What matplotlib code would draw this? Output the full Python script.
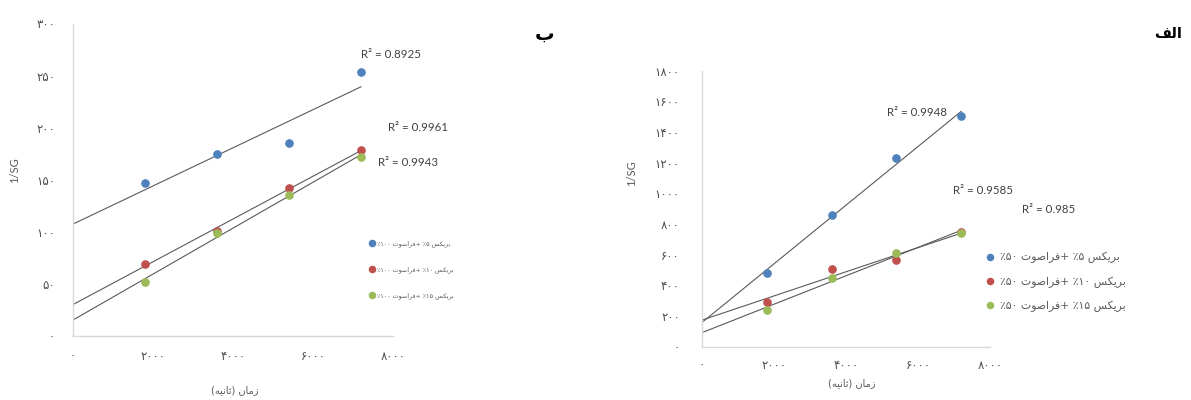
import re
import numpy as np
import matplotlib
matplotlib.use("Agg")
import matplotlib.pyplot as plt
from matplotlib.ticker import FixedLocator, FuncFormatter

# ---------------------------------------------------------------- data
time_s = [1800, 3600, 5400, 7200]

# panel "ب" : ultrasound 100 %
b_brix5 = [146.6, 174.7, 185.0, 253.0]
b_brix10 = [69.1, 100.8, 141.8, 178.6]
b_brix15 = [52.1, 98.6, 135.4, 172.1]
b_r2 = ["R² = 0.8925", "R² = 0.9961", "R² = 0.9943"]
b_labels = ["بریکس ۵٪ +فراصوت ۱۰۰٪",
            "بریکس ۱۰٪ +فراصوت ۱۰۰٪",
            "بریکس ۱۵٪ +فراصوت ۱۰۰٪"]
b_yticks = [0, 50, 100, 150, 200, 250, 300]

# panel "الف" : ultrasound 50 %
a_brix5 = [482, 856, 1228, 1506]
a_brix10 = [292, 506, 565, 745]
a_brix15 = [238, 445, 608, 740]
a_r2 = ["R² = 0.9948", "R² = 0.9585", "R² = 0.985"]
a_labels = ["بریکس ۵٪ +فراصوت ۵۰٪",
            "بریکس ۱۰٪ +فراصوت ۵۰٪",
            "بریکس ۱۵٪ +فراصوت ۵۰٪"]
a_yticks = [0, 200, 400, 600, 800, 1000, 1200, 1400, 1600, 1800]

xticks = [0, 2000, 4000, 6000, 8000]
panel_titles = ["ب", "الف"]
x_title = "زمان (ثانیه)"
y_title = "1/SG"

colors = ["#4F81BD", "#C0504D", "#9BBB59"]

# ------------------------------------------------- Persian text helpers
FORMS = {
    "ا": ("\uFE8D", "\uFE8E"),
    "ب": ("\uFE8F", "\uFE90", "\uFE91", "\uFE92"),
    "ت": ("\uFE95", "\uFE96", "\uFE97", "\uFE98"),
    "ث": ("\uFE99", "\uFE9A", "\uFE9B", "\uFE9C"),
    "ر": ("\uFEAD", "\uFEAE"),
    "ز": ("\uFEAF", "\uFEB0"),
    "س": ("\uFEB1", "\uFEB2", "\uFEB3", "\uFEB4"),
    "ص": ("\uFEB9", "\uFEBA", "\uFEBB", "\uFEBC"),
    "ف": ("\uFED1", "\uFED2", "\uFED3", "\uFED4"),
    "ل": ("\uFEDD", "\uFEDE", "\uFEDF", "\uFEE0"),
    "م": ("\uFEE1", "\uFEE2", "\uFEE3", "\uFEE4"),
    "ن": ("\uFEE5", "\uFEE6", "\uFEE7", "\uFEE8"),
    "ه": ("\uFEE9", "\uFEEA", "\uFEEB", "\uFEEC"),
    "و": ("\uFEED", "\uFEEE"),
    "ک": ("\uFB8E", "\uFB8F", "\uFB90", "\uFB91"),
    "ی": ("\uFBFC", "\uFBFD", "\uFBFE", "\uFBFF"),
}
MIRROR = {"(": ")", ")": "(", "[": "]", "]": "["}
FA_DIGITS = str.maketrans("0123456789", "۰۱۲۳۴۵۶۷۸۹")


def shape(text):
    out = []
    for i, ch in enumerate(text):
        f = FORMS.get(ch)
        if f is None:
            out.append(ch)
            continue
        prev = text[i - 1] if i > 0 else ""
        nxt = text[i + 1] if i + 1 < len(text) else ""
        join_prev = prev in FORMS and len(FORMS[prev]) == 4
        join_next = len(f) == 4 and nxt in FORMS
        if join_prev and join_next:
            out.append(f[3])
        elif join_prev:
            out.append(f[1])
        elif join_next:
            out.append(f[2])
        else:
            out.append(f[0])
    return "".join(out)


def rtl(text):
    """Shape Persian letters and lay the string out right-to-left."""
    s = shape(text)
    runs = re.findall(r"[0-9۰-۹.]+|[^0-9۰-۹.]+", s)
    vis = []
    for r in reversed(runs):
        if re.match(r"[0-9۰-۹.]", r[0]):
            vis.append(r)
        else:
            vis.append("".join(MIRROR.get(c, c) for c in reversed(r)))
    return "".join(vis)


def fa_num(v, _pos=None):
    return str(int(v)).translate(FA_DIGITS)


# ---------------------------------------------------------------- figure
W, H = 1191, 400
fig = plt.figure(figsize=(W / 100, H / 100), dpi=100)
fig.patch.set_facecolor("white")

GRID = "#d9d9d9"
TXT = "#595959"
LATIN = ["Lato", "DejaVu Sans"]
PERSIAN = ["DejaVu Sans"]


def px_axes(x0, x1, y0, y1):
    """Axes rectangle given in pixel edges (x0..x1 left-right, y0 top, y1 bottom)."""
    return fig.add_axes([x0 / W, 1 - y1 / H, (x1 - x0) / W, (y1 - y0) / H])


def style_axes(ax, ylim, yticks, ypad, xpad):
    ax.set_xlim(0, 8000)
    ax.set_ylim(*ylim)
    for side in ("top", "right"):
        ax.spines[side].set_visible(False)
    for side in ("left", "bottom"):
        ax.spines[side].set_color(GRID)
        ax.spines[side].set_linewidth(1.0)
    ax.xaxis.set_major_locator(FixedLocator(xticks))
    ax.yaxis.set_major_locator(FixedLocator(yticks))
    ax.xaxis.set_major_formatter(FuncFormatter(fa_num))
    ax.yaxis.set_major_formatter(FuncFormatter(fa_num))
    ax.tick_params(axis="both", length=0, colors="#4d4d4d", labelsize=8.5)
    ax.tick_params(axis="y", pad=ypad)
    ax.tick_params(axis="x", pad=xpad)
    for lab in ax.get_xticklabels() + ax.get_yticklabels():
        lab.set_family(PERSIAN)
    ax.patch.set_alpha(0)


def draw_panel(ax, series, labels, r2_texts, r2_pos):
    # linear trend line of each series, from t = 0 to the last sample
    for ys in series:
        k, b = np.polyfit(time_s, ys, 1)
        xs = np.array([0, time_s[-1]])
        ax.plot(xs, b + k * xs, color="#5a5a5a", lw=0.8, zorder=2)
    for ys, c, lab in zip(series, colors, labels):
        ax.plot(time_s, ys, "o", color=c, ms=5.2, mec=c, label=rtl(lab), zorder=3)
    for txt, (x, y) in zip(r2_texts, r2_pos):
        ax.text(x, y, txt, ha="center", va="center", fontsize=8.3,
                color="#404040", family=LATIN)


# ------------------------------------------------------------ panel ب
ax_b = px_axes(73, 393, 23.5, 336)
style_axes(ax_b, (0, 300), b_yticks, ypad=13, xpad=10)
draw_panel(ax_b, [b_brix5, b_brix10, b_brix15], b_labels, b_r2,
           [(7950, 270), (8625, 200), (8375, 167)])
ax_b.legend(loc="center left", bbox_to_anchor=(369 / W, 1 - 270 / H),
            bbox_transform=fig.transFigure, frameon=False,
            prop={"family": PERSIAN, "size": 4.6}, labelcolor=TXT,
            handlelength=1.0, handletextpad=0.3, labelspacing=3.0,
            borderpad=0, borderaxespad=0, markerscale=0.85)

# ---------------------------------------------------------- panel الف
ax_a = px_axes(702, 990, 70.7, 346.5)
style_axes(ax_a, (0, 1800), a_yticks, ypad=16, xpad=9)
draw_panel(ax_a, [a_brix5, a_brix10, a_brix15], a_labels, a_r2,
           [(5972, 1524), (7792, 1021), (9639, 891)])
ax_a.legend(loc="center left", bbox_to_anchor=(984.5 / W, 1 - 282 / H),
            bbox_transform=fig.transFigure, frameon=False,
            prop={"family": PERSIAN, "size": 7.8}, labelcolor=TXT,
            handlelength=1.0, handletextpad=0.4, labelspacing=1.2,
            borderpad=0, borderaxespad=0, markerscale=0.85)

# ------------------------------------------------------- axis titles
for (xp, yp) in [(15, 170), (632, 173)]:
    fig.text(xp / W, 1 - yp / H, y_title, rotation=90, ha="center", va="center",
             fontsize=8, color=TXT, family=LATIN)
for (xp, yp) in [(235, 390), (852, 383)]:
    fig.text(xp / W, 1 - yp / H, rtl(x_title), ha="center", va="center",
             fontsize=7, color=TXT, family=PERSIAN)

# panel letters
for (xp, yp), t, fs in zip([(545, 34), (1168, 33)], panel_titles, [14, 10.5]):
    fig.text(xp / W, 1 - yp / H, rtl(t), ha="center", va="center",
             fontsize=fs, fontweight="bold", color="black", family=PERSIAN)

fig.savefig("out.png", dpi=100, facecolor="white")
